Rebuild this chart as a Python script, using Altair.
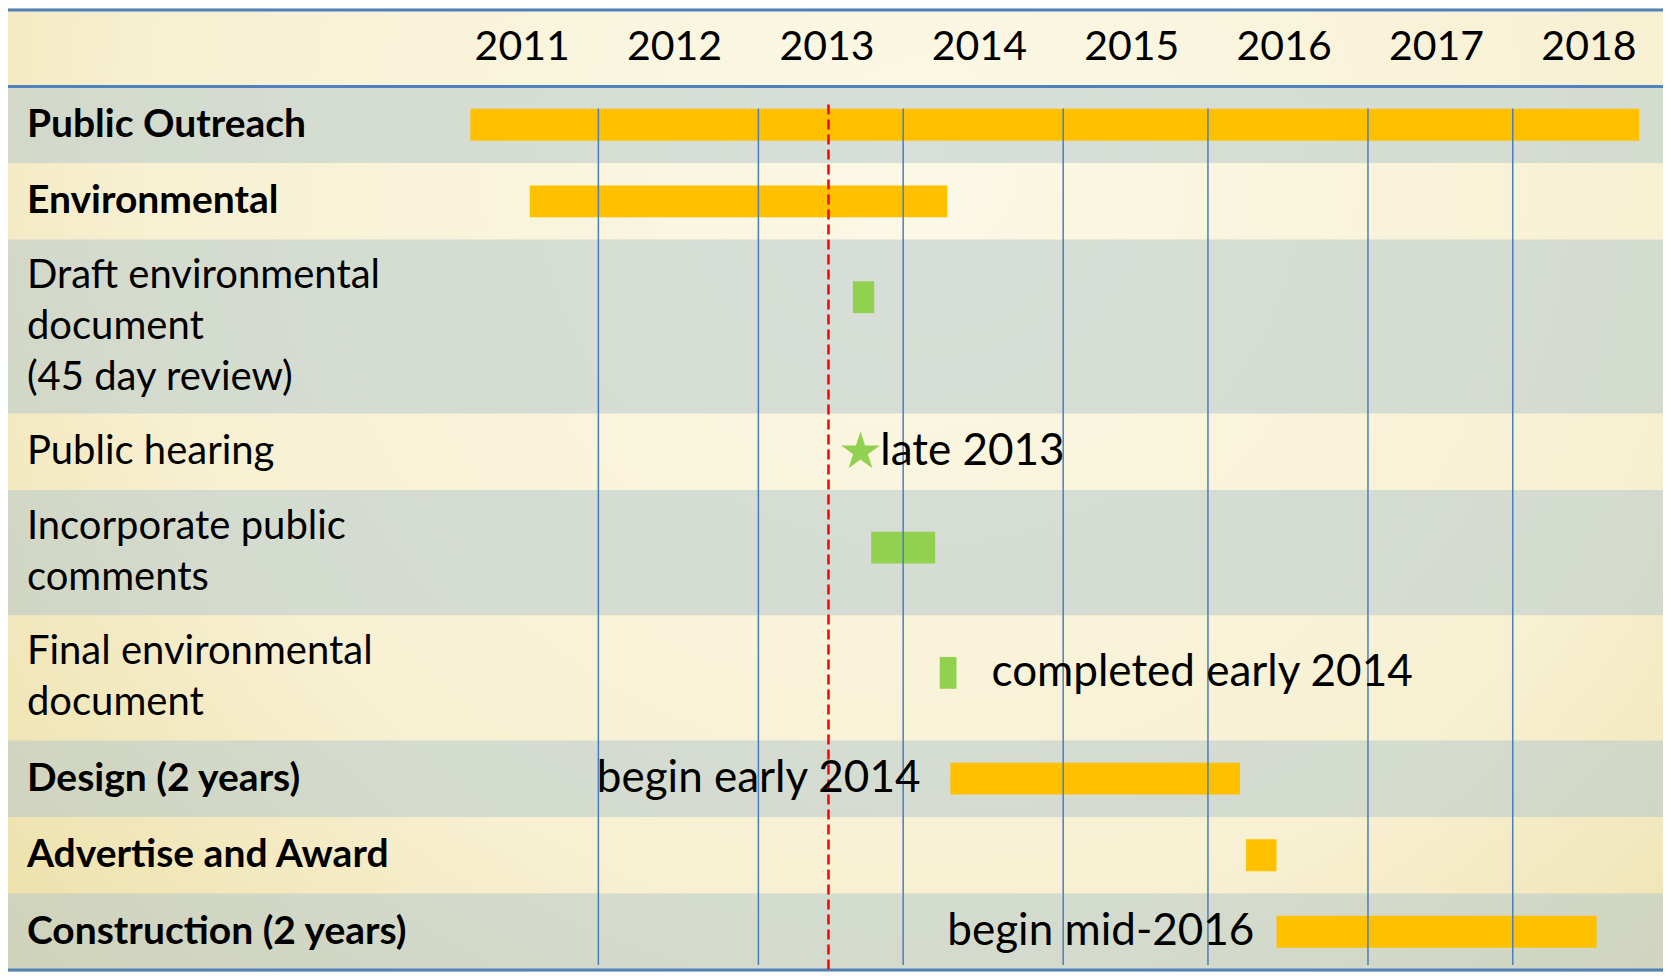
import altair as alt
import pandas as pd

# ---------------- data ----------------
years = [2011, 2012, 2013, 2014, 2015, 2016, 2017, 2018]
tasks = [
    "Public Outreach",
    "Environmental",
    "Draft environmental\ndocument\n(45 day review)",
    "Public hearing",
    "Incorporate public\ncomments",
    "Final environmental\ndocument",
    "Design (2 years)",
    "Advertise and Award",
    "Construction (2 years)",
]
task_bold = [True, True, False, False, False, False, True, True, True]
task_lines = [1, 1, 3, 1, 2, 2, 1, 1, 1]
bar_start = [2011.16, 2011.55, 2013.67, None, 2013.79, 2014.24, 2014.31, 2016.25, 2016.45]
bar_end = [2018.83, 2014.29, 2013.81, None, 2014.21, 2014.35, 2016.21, 2016.45, 2018.55]
bar_kind = ["phase", "phase", "step", None, "step", "step", "phase", "phase", "phase"]
milestone_task = [3]
milestone_date = [2013.72]
notes = ["late 2013", "completed early 2014", "begin early 2014", "begin mid-2016"]
note_task = [3, 5, 6, 8]
note_date = [2013.85, 2014.58, 2011.99, 2014.29]
gridlines = [2012.0, 2013.05, 2014.0, 2015.05, 2016.0, 2017.05, 2018.0]
today = [2013.51]

# ---------------- layout ----------------
W, H = 1655, 964
X_MIN, X_MAX = 2008.126, 2018.986
LABEL_X = 2008.25
HEADER = 77
Y_MIN, Y_MAX = -2, 968
FONT = "Lato"
LINE_H = 51
UNIT_PER_PX = (Y_MAX - Y_MIN) / H

rows = []
top = HEADER
for i, (t, b, n) in enumerate(zip(tasks, task_bold, task_lines)):
    h = 28 + 49 * n
    c = top + h / 2
    rows.append(dict(i=i, task=t, bold=b, top=top, bottom=top + h,
                     center=c, label_y=c - (n - 1) * LINE_H * UNIT_PER_PX / 2,
                     mark_c=top + min(h / 2, 58), band=(i % 2 == 0)))
    top += h
TOTAL = top
rows_df = pd.DataFrame(rows)

xs = alt.Scale(domain=[X_MIN, X_MAX], nice=False, zero=False)
ys = alt.Scale(domain=[Y_MIN, Y_MAX], reverse=True, nice=False, zero=False)

# background gradient
bg_df = pd.DataFrame([dict(x=X_MIN, x2=X_MAX, y=Y_MIN, y2=Y_MAX)])
bg = alt.Chart(bg_df).mark_rect(
    fill=alt.Gradient(
        gradient="radial",
        stops=[alt.GradientStop(offset=0, color="#fbf8e6"),
               alt.GradientStop(offset=0.55, color="#f7f0d2"),
               alt.GradientStop(offset=1, color="#e8d996")],
        x1=0.55, y1=0.3, r1=0, x2=0.55, y2=0.3, r2=0.85),
).encode(x=alt.X("x:Q", scale=xs, axis=None), x2="x2:Q",
         y=alt.Y("y:Q", scale=ys, axis=None), y2="y2:Q")

# alternating bands
band_df = rows_df[rows_df["band"]].assign(x=X_MIN, x2=X_MAX)
bands = alt.Chart(band_df).mark_rect(fill="#b1c5cc", opacity=0.5).encode(
    x=alt.X("x:Q", scale=xs, axis=None), x2="x2:Q",
    y=alt.Y("top:Q", scale=ys, axis=None), y2="bottom:Q")

# horizontal blue lines
hl_df = pd.DataFrame(dict(y=[0, HEADER, TOTAL], x=X_MIN, x2=X_MAX))
hlines = alt.Chart(hl_df).mark_rule(color="#4F81BD", strokeWidth=3).encode(
    x=alt.X("x:Q", scale=xs, axis=None), x2="x2:Q",
    y=alt.Y("y:Q", scale=ys, axis=None))

# bars
bar_rows = [dict(x=s, x2=e, y=r["mark_c"] - 16, y2=r["mark_c"] + 16, kind=k)
            for s, e, k, r in zip(bar_start, bar_end, bar_kind, rows) if s is not None]
bars = alt.Chart(pd.DataFrame(bar_rows)).mark_rect().encode(
    x=alt.X("x:Q", scale=xs, axis=None), x2="x2:Q",
    y=alt.Y("y:Q", scale=ys, axis=None), y2="y2:Q",
    color=alt.Color("kind:N", scale=alt.Scale(domain=["phase", "step"],
                                                range=["#FFC000", "#92D050"]), legend=None))

# vertical grid lines
vl_df = pd.DataFrame(dict(x=gridlines, y=HEADER + 22, y2=TOTAL - 5))
vlines = alt.Chart(vl_df).mark_rule(color="#4a7ebb", strokeWidth=1.5).encode(
    x=alt.X("x:Q", scale=xs, axis=None),
    y=alt.Y("y:Q", scale=ys, axis=None), y2="y2:Q")

# today line
td_df = pd.DataFrame(dict(x=today, y=HEADER + 18, y2=Y_MAX))
tline = alt.Chart(td_df).mark_rule(color="#FF0000", strokeWidth=2.5, strokeDash=[10, 5]).encode(
    x=alt.X("x:Q", scale=xs, axis=None),
    y=alt.Y("y:Q", scale=ys, axis=None), y2="y2:Q")

# milestone star
STAR = ("M0,-1L0.2245,-0.309L0.9511,-0.309L0.3633,0.118L0.5878,0.809L0,0.382"
        "L-0.5878,0.809L-0.3633,0.118L-0.9511,-0.309L-0.2245,-0.309Z")
ms_df = pd.DataFrame(dict(x=milestone_date, y=[rows[i]["center"] for i in milestone_task]))
star = alt.Chart(ms_df).mark_point(shape=STAR, size=1650, filled=True, fill="#92D050",
                                   opacity=1, strokeWidth=0).encode(
    x=alt.X("x:Q", scale=xs, axis=None), y=alt.Y("y:Q", scale=ys, axis=None))

# year labels
yr_df = pd.DataFrame(dict(x=[y + 0.5 for y in years], y=HEADER / 2, label=[str(y) for y in years]))
yr_text = alt.Chart(yr_df).mark_text(font=FONT, fontSize=41, color="black",
                                     align="center", baseline="middle").encode(
    x=alt.X("x:Q", scale=xs, axis=None), y=alt.Y("y:Q", scale=ys, axis=None), text="label:N")

# row labels
lab_df = rows_df.assign(x=LABEL_X)
lab_bold = alt.Chart(lab_df[lab_df["bold"]]).mark_text(
    font=FONT, fontSize=39, fontWeight="bold", color="black", align="left",
    baseline="middle", lineBreak="\n", lineHeight=LINE_H).encode(
    x=alt.X("x:Q", scale=xs, axis=None), y=alt.Y("label_y:Q", scale=ys, axis=None), text="task:N")
lab_norm = alt.Chart(lab_df[~lab_df["bold"]]).mark_text(
    font=FONT, fontSize=40, color="black", align="left",
    baseline="middle", lineBreak="\n", lineHeight=LINE_H).encode(
    x=alt.X("x:Q", scale=xs, axis=None), y=alt.Y("label_y:Q", scale=ys, axis=None), text="task:N")

# annotations
note_df = pd.DataFrame(dict(x=note_date, label=notes,
                            y=[rows[i]["mark_c"] if bar_start[i] is not None else rows[i]["center"]
                               for i in note_task]))
note_text = alt.Chart(note_df).mark_text(font=FONT, fontSize=44, color="black",
                                         align="left", baseline="middle").encode(
    x=alt.X("x:Q", scale=xs, axis=None), y=alt.Y("y:Q", scale=ys, axis=None), text="label:N")

chart = alt.layer(bg, bands, hlines, bars, vlines, tline, star, yr_text, lab_bold, lab_norm, note_text).properties(
    width=W, height=H, padding=0, autosize=alt.AutoSizeParams(type="none"),
    background="#f8f3d8",
).configure_view(strokeWidth=0)

chart.save("out.html", embed_options={"renderer": "svg", "actions": False})
